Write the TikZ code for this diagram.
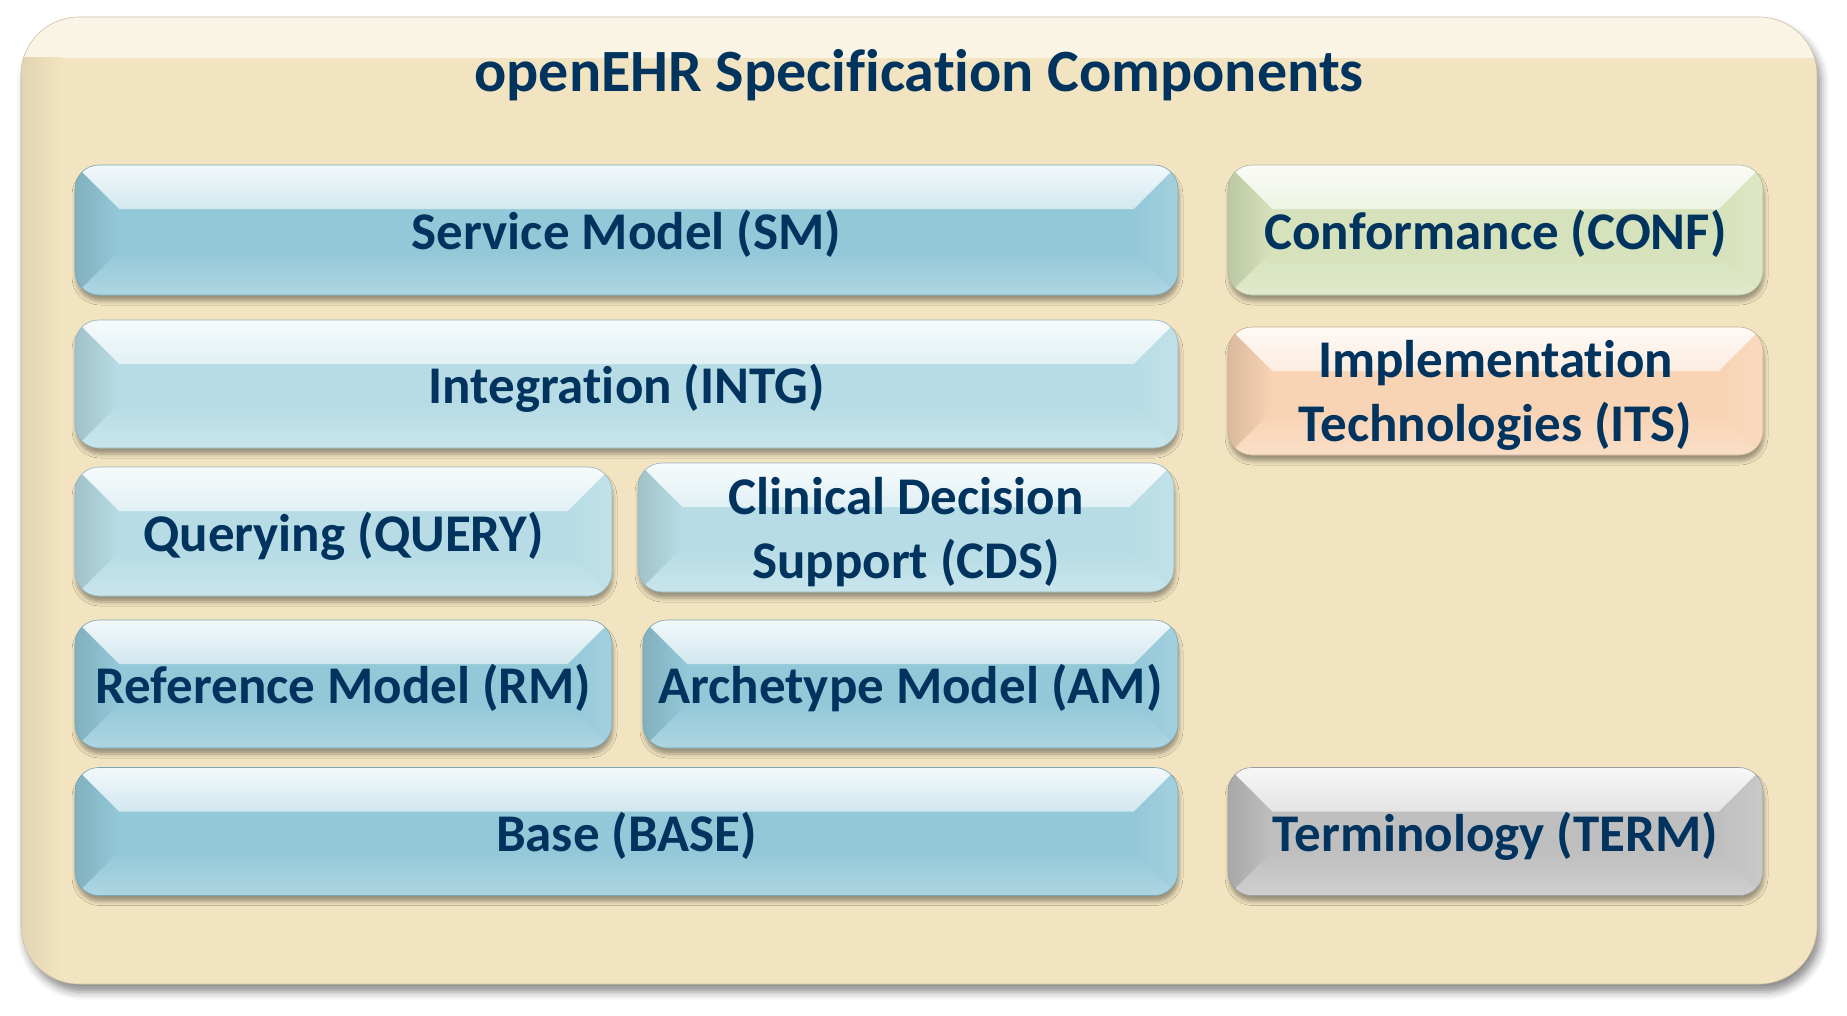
\documentclass[tikz,border=0pt]{standalone}
\usepackage{fontspec}
\setmainfont{Carlito}[Ligatures={NoCommon}]
\usetikzlibrary{calc, shadows.blur}
\definecolor{oNavy}{HTML}{00345F}
\definecolor{oCream}{HTML}{F2E4C0}
\definecolor{oBlue}{HTML}{93C8D8}
\definecolor{oBlueLt}{HTML}{B7DCE5}
\definecolor{oGreen}{HTML}{D6E2BB}
\definecolor{oPeach}{HTML}{F8D3B4}
\definecolor{oGrey}{HTML}{BFBFBF}
\newcommand{\tilefont}{\fontsize{53}{64}\selectfont\bfseries}
\newcommand{\titlefont}{\fontsize{60}{70}\selectfont\bfseries}

\begin{document}
\begin{tikzpicture}[x=1pt, y=-1pt,
  panel/.style={fill=oCream, draw=oCream!85!black, line width=0.6pt, rounded corners=58pt,
                blur shadow={shadow xshift=4pt, shadow yshift=-8pt, shadow blur radius=8pt, shadow opacity=45},
                path picture={
                  \shade[sharp corners, top color=oCream!40!white, bottom color=oCream] let \p1=(path picture bounding box.north west),
                    \p2=(path picture bounding box.south east) in
                    (\x1,\y1) rectangle (\x2,\y1-40pt);
                  \shade[sharp corners, left color=oCream!93!black, right color=oCream] let \p1=(path picture bounding box.north west),
                    \p2=(path picture bounding box.south east) in
                    (\x1,\y1-40pt) rectangle (\x1+40pt,\y2);
                }},
  tile/.style={fill=#1, draw=#1!82!black, line width=0.6pt, rounded corners=24pt,
               text=oNavy, font=\tilefont, align=center, inner sep=0pt, text depth=0pt,
               blur shadow={shadow xshift=1pt, shadow yshift=-6pt, shadow blur radius=4pt, shadow opacity=35},
               path picture={
                 % top, left, right and bottom bevels
                 \shade[sharp corners, top color=#1!12!white, bottom color=#1] let \p1=(path picture bounding box.north west),
                   \p2=(path picture bounding box.south east) in
                   (\x1,\y1) -- (\x2,\y1) -- (\x2-44pt,\y1-44pt) -- (\x1+44pt,\y1-44pt) -- cycle;
                 \shade[sharp corners, left color=#1!88!black, right color=#1] let \p1=(path picture bounding box.north west),
                   \p2=(path picture bounding box.south east) in
                   (\x1,\y1) -- (\x1+44pt,\y1-44pt) -- (\x1+44pt,\y2+44pt) -- (\x1,\y2) -- cycle;
                 \shade[sharp corners, left color=#1, right color=#1!85!white] let \p1=(path picture bounding box.north west),
                   \p2=(path picture bounding box.south east) in
                   (\x2,\y1) -- (\x2-44pt,\y1-44pt) -- (\x2-44pt,\y2+44pt) -- (\x2,\y2) -- cycle;
                 \shade[sharp corners, top color=#1, bottom color=#1!75!white] let \p1=(path picture bounding box.north west),
                   \p2=(path picture bounding box.south east) in
                   (\x1,\y2) -- (\x1+44pt,\y2+44pt) -- (\x2-44pt,\y2+44pt) -- (\x2,\y2) -- cycle;
               }}]
  \useasboundingbox (0,0) rectangle (1847,1015);
  % frame and title
  \node[panel, minimum width=1796pt, minimum height=967pt] (frame) at (919,500.5) {};
  \node[font=\titlefont, text=oNavy] (title) at (919,75) {openEHR Specification Components};
  % left stack
  \node[tile=oBlue, minimum width=1103pt, minimum height=130pt] (sm) at (626.5,230) {Service Model (SM)};
  \node[tile=oBlueLt, minimum width=1103pt, minimum height=128pt] (intg) at (626.5,384) {Integration (INTG)};
  \node[tile=oBlueLt, minimum width=537pt, minimum height=129pt] (query) at (343.5,531.5) {Querying (QUERY)};
  \node[tile=oBlueLt, minimum width=536pt, minimum height=129pt] (cds) at (906,527.5) {Clinical Decision\\Support (CDS)};
  \node[tile=oBlue, minimum width=537pt, minimum height=128pt] (rm) at (343.5,684) {Reference Model (RM)};
  \node[tile=oBlue, minimum width=535pt, minimum height=128pt] (am) at (910.5,684) {Archetype Model (AM)};
  \node[tile=oBlue, minimum width=1103pt, minimum height=128pt] (base) at (626.5,831.5) {Base (BASE)};
  % right column
  \node[tile=oGreen, minimum width=535pt, minimum height=130pt] (conf) at (1495.5,230) {Conformance (CONF)};
  \node[tile=oPeach, minimum width=535pt, minimum height=128pt] (its) at (1495.5,391) {Implementation\\Technologies (ITS)};
  \node[tile=oGrey, minimum width=535pt, minimum height=128pt] (term) at (1495.5,831.5) {Terminology (TERM)};
\end{tikzpicture}
\end{document}
